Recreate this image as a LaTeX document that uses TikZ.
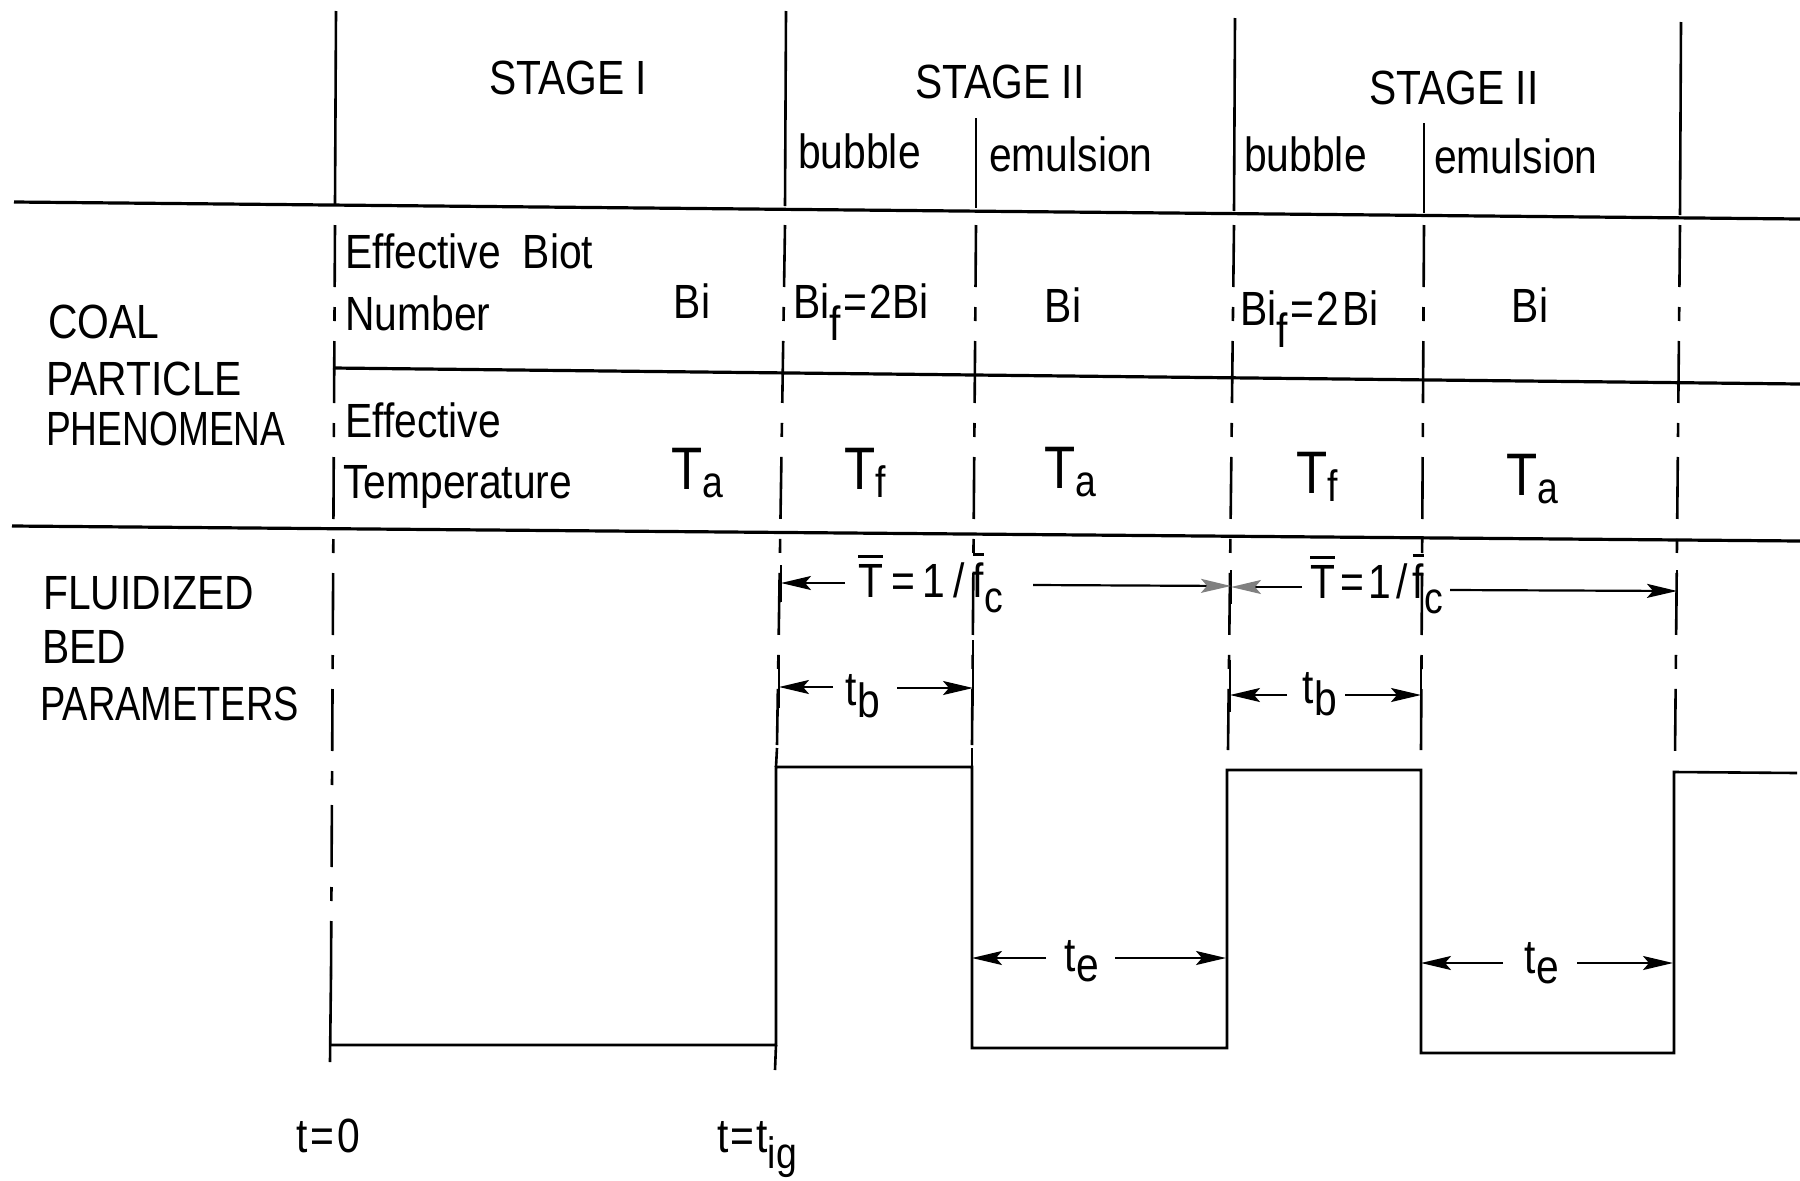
\documentclass[tikz,border=0pt]{standalone}
\usepackage{fontspec}
\usepackage{graphicx}
\setmainfont{Liberation Sans}[FakeStretch=0.85]
\usetikzlibrary{arrows.meta}
\newsavebox\ovlbox
\newcommand\ovl[1]{\sbox\ovlbox{#1}\rlap{\raisebox{\dimexpr\ht\ovlbox+6pt\relax}{\rule{\wd\ovlbox}{3pt}}}\usebox\ovlbox}
\newcommand\lsub[3]{\raisebox{-#1}{\fontsize{#2}{#2}\selectfont #3}}
\newcommand\Tsub[1]{{\fontsize{60}{60}\selectfont T}\lsub{8pt}{44}{#1}}
\begin{document}
\begin{tikzpicture}[x=1pt,y=-1pt,
  txt/.style={inner sep=0pt, font=\fontsize{48}{58}\selectfont},
  rulel/.style={line width=3.2pt},
  vline/.style={line width=2.6pt},
  dashv/.style={line width=2.6pt, dash pattern=on 62pt off 20pt on 14pt off 20pt},
  dimarr/.style={line width=2.2pt, -{Stealth[length=30pt,width=14pt,inset=6pt]}},
  dimgray/.style={line width=2.2pt, -{Stealth[length=30pt,width=14pt,inset=6pt,color=gray]}}]
\useasboundingbox (0,0) rectangle (1800,1181);

% horizontal rules
\draw[rulel] (14,202) -- (1800,219);
\draw[rulel] (333,368) -- (1800,384);
\draw[rulel] (12,526) -- (1800,541);

% vertical lines: header parts
\draw[vline] (336,11) -- (335,204);
\draw[vline] (786,11) -- (785,206);
\draw[vline] (976,118) -- (976,208);
\draw[vline] (1235,18) -- (1234,211);
\draw[vline] (1424,123) -- (1424,213);
\draw[vline] (1681,22) -- (1680,215);
% vertical lines: dashed parts
\draw[dashv] (335,225) -- (331,975);
\draw[dashv] (785,225) -- (777,745);
\draw[dashv] (976,225) -- (972,745);
\draw[dashv] (1234,225) -- (1228,750);
\draw[dashv] (1424,225) -- (1421,750);
\draw[dashv] (1680,225) -- (1675,755);
% solid ticks at dimension ends
\draw[vline] (781,565) -- (781,602);
\draw[vline] (779,655) -- (779,708);
\draw[vline] (973,640) -- (973,706);
\draw[vline] (1231,570) -- (1231,604);
\draw[vline] (1230,660) -- (1230,712);
\draw[vline] (1421,660) -- (1421,712);
\draw[vline] (1677,570) -- (1677,606);

% square wave
\draw[vline] (331,975) -- (330,1062);
\draw[vline] (330,1045) -- (776,1045) -- (776,767) -- (972,767) -- (972,1048)
  -- (1227,1048) -- (1227,770) -- (1421,770) -- (1421,1053) -- (1674,1053)
  -- (1674,772) -- (1797,773);
\draw[vline] (776,1045) -- (775,1070);
\draw[vline] (777,748) -- (776,767);
\draw[vline] (972,748) -- (972,767);

% header texts
\node[txt, anchor=base] (stI) at (568,94) {STAGE I};
\node[txt, anchor=base] (stIIa) at (1000,98) {STAGE II};
\node[txt, anchor=base] (stIIb) at (1454,104) {STAGE II};
\node[txt, anchor=base west] (bub1) at (798,168) {bubble};
\node[txt, anchor=base west] (emu1) at (989,171) {emulsion};
\node[txt, anchor=base west] (bub2) at (1244,171) {bubble};
\node[txt, anchor=base west] (emu2) at (1434,173) {emulsion};

% coal particle rows
\node[txt, anchor=base west] (coal) at (48,338) {COAL};
\node[txt, anchor=base west] (part) at (46,395) {PARTICLE};
\node[txt, anchor=base west] (phen) at (46,445) {\scalebox{0.91}[1]{PHENOMENA}};
\node[txt, anchor=base west] (ebiot) at (345,268) {Effective\hspace{22pt}Biot};
\node[txt, anchor=base west] (numb) at (345,330) {Number};
\node[txt, anchor=base] (bi0) at (692,318) {Bi};
\node[txt, anchor=base west] (bif1) at (793,318) {Bi\lsub{22pt}{48}{f}\kern3pt=\kern2pt2Bi};
\node[txt, anchor=base] (bi1) at (1063,322) {Bi};
\node[txt, anchor=base west] (bif2) at (1240,325) {Bi\lsub{22pt}{48}{f}\kern3pt=\kern2pt2\kern3pt Bi};
\node[txt, anchor=base] (bi2) at (1530,322) {Bi};
\node[txt, anchor=base west] (efft) at (345,437) {Effective};
\node[txt, anchor=base west] (temp) at (343,498) {Temperature};
\node[txt, anchor=base west] (ta0) at (671,489) {\Tsub{a}};
\node[txt, anchor=base west] (tf1) at (844,489) {\Tsub{f}};
\node[txt, anchor=base west] (ta1) at (1044,488) {\Tsub{a}};
\node[txt, anchor=base west] (tf2) at (1296,493) {\Tsub{f}};
\node[txt, anchor=base west] (ta2) at (1506,495) {\Tsub{a}};

% fluidized bed rows
\node[txt, anchor=base west] (flu) at (43,609) {FLUIDIZED};
\node[txt, anchor=base west] (bed) at (42,663) {BED};
\node[txt, anchor=base west] (par) at (40,720) {\scalebox{0.93}[1]{PARAMETERS}};
\node[txt, anchor=base west] (tzero) at (296,1152) {t\kern3pt=\kern3pt0};
\node[txt, anchor=base west] (tig) at (717,1152) {t\kern2pt=\kern2pt t\lsub{16pt}{44}{ig}};

% dimension labels
\node[txt, anchor=base west] (Tbar1) at (858,597) {\ovl{T}\kern8pt=\kern8pt1\kern8pt/\kern8pt\ovl{f}\lsub{15pt}{44}{c}};
\node[txt, anchor=base west] (Tbar2) at (1310,598) {\ovl{T}\kern5pt=\kern5pt1\kern5pt/\kern5pt\ovl{f}\lsub{15pt}{44}{c}};
\node[txt, anchor=base west] (tb1) at (845,705) {t\kern1pt\lsub{12pt}{48}{b}};
\node[txt, anchor=base west] (tb2) at (1302,703) {t\kern1pt\lsub{12pt}{48}{b}};
\node[txt, anchor=base west] (te1) at (1064,971) {t\kern1pt\lsub{10pt}{48}{e}};
\node[txt, anchor=base west] (te2) at (1524,973) {t\kern1pt\lsub{10pt}{48}{e}};

% dimension arrow coordinates
\coordinate (T1a) at (845,583);  \coordinate (T1L) at (781,583);
\coordinate (T1b) at (1033,585); \coordinate (T1R) at (1231,586);
\coordinate (T2a) at (1302,587); \coordinate (T2L) at (1231,587);
\coordinate (T2b) at (1450,590); \coordinate (T2R) at (1677,591);
\coordinate (B1a) at (833,687);  \coordinate (B1L) at (779,687);
\coordinate (B1b) at (897,688);  \coordinate (B1R) at (973,688);
\coordinate (B2a) at (1287,695); \coordinate (B2L) at (1230,695);
\coordinate (B2b) at (1345,695); \coordinate (B2R) at (1421,695);
\coordinate (E1a) at (1046,958); \coordinate (E1L) at (972,958);
\coordinate (E1b) at (1115,958); \coordinate (E1R) at (1226,958);
\coordinate (E2a) at (1503,963); \coordinate (E2L) at (1421,963);
\coordinate (E2b) at (1577,963); \coordinate (E2R) at (1673,963);

\draw[dimarr] (T1a) -- (T1L);
\draw[dimgray] (T1b) -- (T1R);
\draw[dimgray] (T2a) -- (T2L);
\draw[dimarr] (T2b) -- (T2R);
\draw[dimarr] (B1a) -- (B1L);
\draw[dimarr] (B1b) -- (B1R);
\draw[dimarr] (B2a) -- (B2L);
\draw[dimarr] (B2b) -- (B2R);
\draw[dimarr] (E1a) -- (E1L);
\draw[dimarr] (E1b) -- (E1R);
\draw[dimarr] (E2a) -- (E2L);
\draw[dimarr] (E2b) -- (E2R);
\end{tikzpicture}
\end{document}
